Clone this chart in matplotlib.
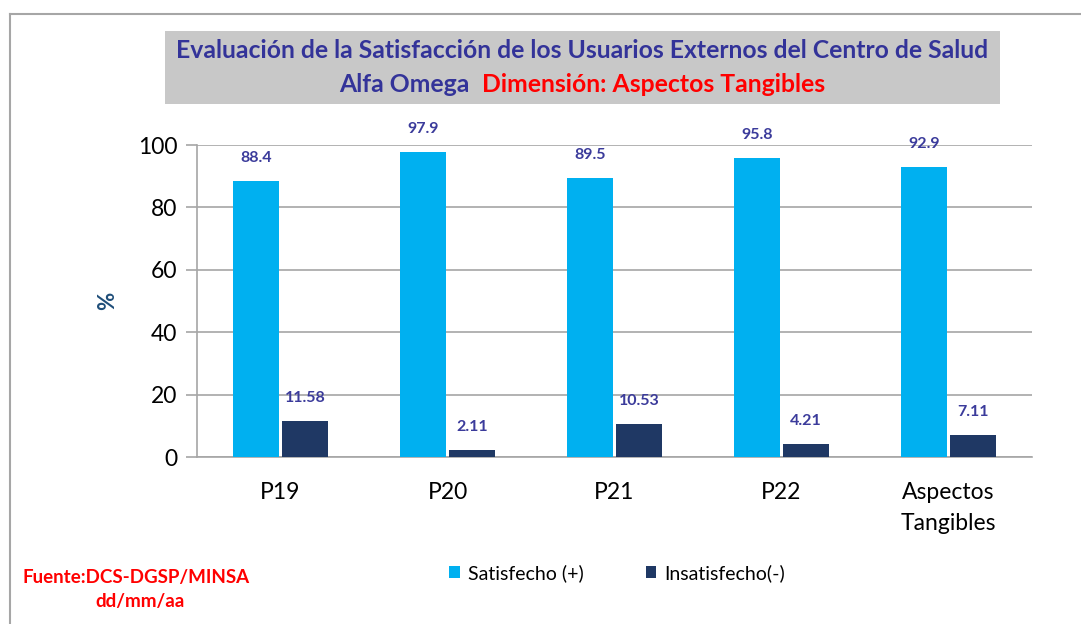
import matplotlib
matplotlib.use("Agg")
import matplotlib.pyplot as plt
from matplotlib.patches import Rectangle, Patch
from matplotlib.lines import Line2D
import numpy as np

categories = ["P19", "P20", "P21", "P22", "Aspectos\nTangibles"]
satisfecho = [88.4, 97.9, 89.5, 95.8, 92.9]
insatisfecho = [11.58, 2.11, 10.53, 4.21, 7.11]
sat_labels = ["88.4", "97.9", "89.5", "95.8", "92.9"]
ins_labels = ["11.58", "2.11", "10.53", "4.21", "7.11"]
yticks = [0, 20, 40, 60, 80, 100]

C_SAT = "#00B0F0"
C_INS = "#1F3864"
C_LBL = "#3B3B9B"
C_TITLE = "#333399"

W, H = 1081, 624
fig = plt.figure(figsize=(W / 100, H / 100), dpi=100)
FONT = "Lato"

# outer border lines
fig.add_artist(Line2D([10 / W, 1.0], [1 - 14 / H, 1 - 14 / H], color="#A6A6A6", lw=1.5, transform=fig.transFigure))
fig.add_artist(Line2D([10 / W, 10 / W], [0, 1 - 14 / H], color="#A6A6A6", lw=1.5, transform=fig.transFigure))

ax = fig.add_axes([197 / W, 1 - 457 / H, (1032 - 197) / W, (457 - 145) / H])
x = np.arange(len(categories))
bw = 0.28
gap = 0.006
b1 = ax.bar(x - bw / 2 - gap, satisfecho, width=bw, color=C_SAT, zorder=3)
b2 = ax.bar(x + bw / 2 + gap, insatisfecho, width=bw, color=C_INS, zorder=3)

for rect, lab in zip(b1, sat_labels):
    ax.annotate(lab, (rect.get_x() + rect.get_width() / 2, rect.get_height()),
                xytext=(0, 23), textcoords="offset pixels", ha="center", va="center",
                fontsize=11.5, fontweight="bold", color=C_LBL, family=FONT)
for rect, lab in zip(b2, ins_labels):
    ax.annotate(lab, (rect.get_x() + rect.get_width() / 2, rect.get_height()),
                xytext=(0, 23), textcoords="offset pixels", ha="center", va="center",
                fontsize=11.5, fontweight="bold", color=C_LBL, family=FONT)

ax.set_xlim(-0.5, len(categories) - 0.5)
ax.set_ylim(0, 100)
ax.set_yticks(yticks)
ax.set_yticklabels([str(v) for v in yticks], fontsize=16.5, family=FONT)
ax.set_xticks(x)
ax.set_xticklabels(categories, fontsize=16.5, family=FONT, linespacing=1.6)
ax.tick_params(axis="x", length=0, pad=18)
ax.tick_params(axis="y", length=8, width=1.2, color="#A6A6A6", pad=6)
ax.grid(axis="y", color="#A6A6A6", lw=1.2, zorder=0)
for s in ["top", "right"]:
    ax.spines[s].set_visible(False)
ax.spines["left"].set_color("#A6A6A6")
ax.spines["left"].set_linewidth(1.2)
ax.spines["bottom"].set_color("#A6A6A6")
ax.spines["bottom"].set_linewidth(1.2)
ax.set_ylabel("%", fontsize=16, fontweight="bold", color="#1F4E79", family=FONT, labelpad=14)

# title box
fig.add_artist(Rectangle((165 / W, 1 - 104 / H), (1000 - 165) / W, (104 - 31) / H,
                         facecolor="#C8C8C8", edgecolor="none", transform=fig.transFigure))
fig.text(582 / W, 1 - 51 / H, "Evaluación de la Satisfacción de los Usuarios Externos del Centro de Salud",
         ha="center", va="center", fontsize=17.8, fontweight="bold", color=C_TITLE, family=FONT)
fig.text(470 / W, 1 - 85 / H, "Alfa Omega", ha="right", va="center",
         fontsize=17.8, fontweight="bold", color=C_TITLE, family=FONT)
fig.text(482 / W, 1 - 85 / H, "Dimensión: Aspectos Tangibles", ha="left", va="center",
         fontsize=17.8, fontweight="bold", color="#FF0000", family=FONT)

# legend
handles = [Patch(facecolor=C_SAT, label="Satisfecho (+)"), Patch(facecolor=C_INS, label="Insatisfecho(-)")]
fig.legend(handles=handles, loc="center", bbox_to_anchor=(617 / W, 1 - 573 / H), ncol=2,
           frameon=False, prop={"family": FONT, "size": 14}, handlelength=0.55, handleheight=0.55,
           handletextpad=0.4, columnspacing=3.2)

# source
fig.text(136 / W, 1 - 577 / H, "Fuente:DCS-DGSP/MINSA", ha="center", va="center",
         fontsize=13.5, fontweight="bold", color="#FF0000", family=FONT)
fig.text(140 / W, 1 - 601 / H, "dd/mm/aa", ha="center", va="center",
         fontsize=13.5, fontweight="bold", color="#FF0000", family=FONT)

fig.savefig("out.png", dpi=100)
